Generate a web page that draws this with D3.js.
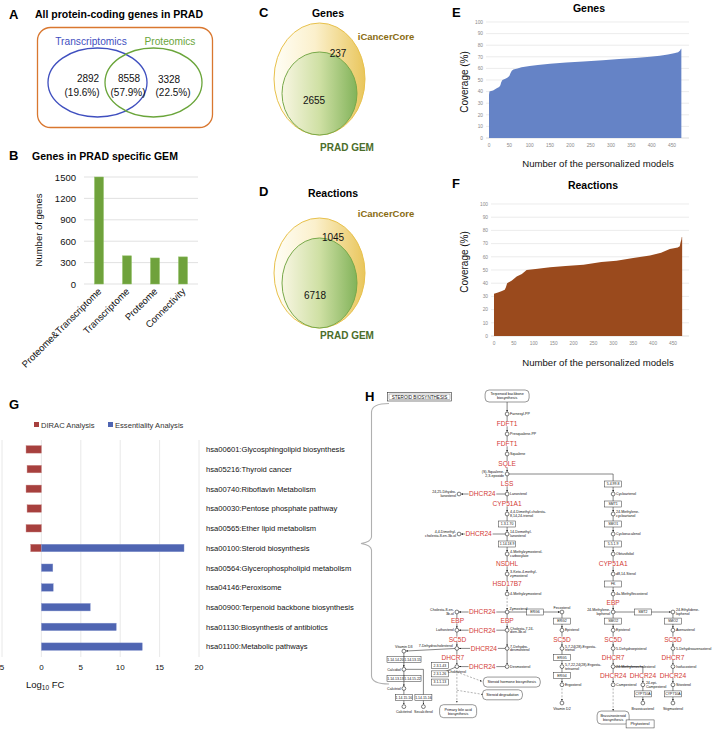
<!DOCTYPE html>
<html><head><meta charset="utf-8">
<script src="https://cdn.jsdelivr.net/npm/d3@7"></script>
<style>
body{margin:0;background:#fff}
svg{display:block}
text{font-family:"Liberation Sans",Arial,sans-serif}
</style></head>
<body><svg id="fig" width="718" height="734"></svg>
<script>
// ---------------- DATA ----------------
const vennSets = ["Transcriptomics", "Proteomics"];
const vennCounts = [2892, 8558, 3328];
const vennPercents = ["19.6%", "57.9%", "22.5%"];

const gemCategories = ["Proteome&Transcriptome", "Transcriptome", "Proteome", "Connectivity"];
const gemGenes = [1500, 395, 365, 380];
const gemTicks = [0, 300, 600, 900, 1200, 1500];

const overlapTitles = ["Genes", "Reactions"];
const overlapOnlyCore = [237, 1045];
const overlapShared = [2655, 6718];

const coverageTicksY = [0, 10, 20, 30, 40, 50, 60, 70, 80, 90, 100];
const coverageTicksX = [0, 50, 100, 150, 200, 250, 300, 350, 400, 450];
const geneCovModel = [0, 1, 5, 10, 15, 20, 25, 28, 30, 33, 40, 45, 50, 53, 56, 60, 70, 80, 100, 120, 150, 190, 232, 280, 320, 360, 396, 420, 440, 455, 465, 470, 472, 473];
const geneCovValue = [37, 40, 40.5, 41, 42, 43, 44, 45.5, 48, 50, 51, 52, 53.5, 56, 58, 59, 60, 61, 62, 63, 64, 65, 66, 67, 68, 69, 70, 71, 72, 73, 74, 75.5, 77, 77];
const rxnCovModel = [0, 10, 20, 27, 30, 33, 45, 57, 70, 82, 110, 141, 180, 225, 270, 308, 350, 392, 420, 442, 462, 467, 469, 471, 472, 473];
const rxnCovValue = [32, 33, 34, 35, 37, 40, 42, 45, 47, 50, 51, 52, 53, 54, 56, 57, 59, 61, 63, 66, 67, 68, 71, 73, 75, 75];

const pathways = ["hsa00601:Glycosphingolipid biosynthesis", "hsa05216:Thyroid cancer", "hsa00740:Riboflavin Metabolism",
  "hsa00030:Pentose phosphate pathway", "hsa00565:Ether lipid metabolism", "hsa00100:Steroid biosynthesis",
  "hsa00564:Glycerophospholipid metabolism", "hsa04146:Peroxisome", "hsa00900:Terpenoid backbone biosynthesis",
  "hsa01130:Biosynthesis of antibiotics", "hsa01100:Metabolic pathways"];
const diracFC = [-1.95, -1.82, -1.95, -1.82, -1.95, -1.36, 0, 0, 0, 0, 0];
const essentialityFC = [0, 0, 0, 0, 0, 18.1, 1.45, 1.5, 6.2, 9.5, 12.8];
const fcTicks = [-5, 0, 5, 10, 15, 20];

// Pathway map (KEGG steroid biosynthesis) in diagram units: column, row
const hCompounds = [
  ["Farnesyl-PP",4.1,0,"r"],["Presqualene-PP",4.1,2,"r"],["Squalene",4.1,4,"r"],["(S)-Squalene-|2,3-epoxide",4.1,6,"l"],
  ["Lanosterol",4.1,8,"r"],["4,4-Dimethyl-cholesta-|8,14,24-trienol",4.1,10,"r"],["14-Demethyl-|lanosterol",4.1,12,"r"],
  ["4-Methylzymosterol-|carboxylate",4.1,14,"r"],["3-Keto-4-methyl-|zymosterol",4.1,16,"r"],["4-Methylzymosterol",4.1,18,"r"],
  ["Zymosterol",4.1,20,"tr"],["Cholesta-7,24-|dien-3b-ol",4.1,22,"r"],["7-Dehydro-|desmosterol",4.1,24,"r"],["Desmosterol",4.1,26,"r"],
  ["24,25-Dihydro-|lanosterol",2.55,8,"l"],["4,4-Dimethyl-|cholesta-8-en-3b-ol",2.55,12,"l"],
  ["Cholesta-8-en-|3b-ol",2.48,20,"l"],["Lathosterol",2.48,22,"l"],["7-Dehydrocholesterol",2.48,24,"a"],["Cholesterol",2.48,26,"b"],
  ["Vitamin D3",0.77,24.3,"t"],["Calcidiol",0.77,26.3,"l"],["Calcitriol",0.77,28.4,"l"],["Calcitetrol",0.77,30.4,"b"],["Secalciferol",1.4,30.4,"b"],
  ["Fecosterol",5.87,20,"t"],["Episterol",5.87,22,"r"],["5,7,24(28)-Ergosta-|trienol",5.87,24,"r"],["5,7,22,24(28)-Ergosta-|tetraenol",5.87,26,"r"],
  ["Ergosterol",5.87,28,"r"],["Vitamin D2",5.87,30,"b"],
  ["Cycloartenol",7.52,8,"r"],["24-Methylene-|cycloartanol",7.52,10,"r"],["Cycloeucalenol",7.52,12,"r"],["Obtusifoliol",7.52,14,"r"],
  ["d8,14-Sterol",7.52,16,"r"],["4a-Methylfecosterol",7.52,18,"r"],["24-Methylene-|lophenol",7.52,20,"l"],["Episterol",7.52,22,"r"],
  ["5-Dehydroepisterol",7.52,24,"r"],["24-Methylenecholesterol",7.52,26,"r"],["Campesterol",7.52,28,"r"],
  ["24-epi-|Campesterol",8.48,28,"r"],["Brassicasterol",8.48,30,"b"],
  ["24-Ethylidene-|lophenol",9.45,20,"r"],["Avenasterol",9.45,22,"r"],["5-Dehydroavenasterol",9.45,24,"r"],["Isofucosterol",9.45,26,"r"],
  ["Sitosterol",9.45,28,"r"],["Stigmasterol",9.45,30,"b"]
];
const hGenes = [
  ["FDFT1",4.1,1],["FDFT1",4.1,3],["SQLE",4.1,5],["LSS",4.1,7],["CYP51A1",4.1,9],["NSDHL",4.1,15],["HSD17B7",4.1,17],["EBP",4.1,21],
  ["DHCR24",3.3,8],["DHCR24",3.18,12],["DHCR24",3.3,20],["DHCR24",3.3,22],["DHCR24",3.35,24],["DHCR24",3.3,26],
  ["EBP",2.5,21],["SC5D",2.5,23],["DHCR7",2.35,25],
  ["SC5D",5.87,23],
  ["CYP51A1",7.52,15],["EBP",7.52,19],["SC5D",7.52,23],["DHCR7",7.52,25],["DHCR24",7.52,27],
  ["DHCR24",8.48,27],["SC5D",9.45,23],["DHCR7",9.45,25],["DHCR24",9.45,27]
];
const hBoxes = [
  ["1.3.1.70",4.1,11],["1.14.18.9",4.1,13],["ERG6",5.0,20],["ERG2",5.87,21],["ERG5",5.87,25],["ERG4",5.87,27],
  ["5.4.99.8",7.52,7],["SMT1",7.52,9],["SMO1",7.52,11],["5.5.1.9",7.52,13],["FK",7.52,17],["SMO2",7.52,21],
  ["SMT2",8.48,20],["SMO2",9.45,21],["CYP710A",8.48,29],["CYP710A",9.45,29],
  ["1.14.14.20",0.5,25.2],["1.14.13.15",1.05,25.2],["1.14.13.13",0.5,27.3],["1.14.15.22",1.05,27.3],
  ["1.14.15.16",0.77,29.4],["1.14.15.16",1.4,29.4],["2.3.1.43",1.93,25.9],["2.3.1.26",1.93,26.8],["3.1.1.13",1.93,27.7]
];
const hPathBoxes = [
  ["Terpenoid backbone|biosynthesis",4.1,-1.8,44,12],["Steroid hormone biosynthesis",4.25,27.7,57,10],
  ["Steroid degradation",3.95,29.1,40,10],["Primary bile acid|biosynthesis",2.52,30.9,37,13],["Brassinosteroid|biosynthesis",7.52,31.6,32,13]
];
const hLinks = [
  [4.1,-1.2,4.1,0,"a"],[4.1,0,4.1,2,"a"],[4.1,2,4.1,4,"a"],[4.1,4,4.1,6,"a"],[4.1,6,4.1,8,"a"],[4.1,8,4.1,10,"a"],[4.1,10,4.1,12,"a"],
  [4.1,12,4.1,14,"a"],[4.1,14,4.1,16,"a"],[4.1,16,4.1,18,"a"],[4.1,18,4.1,20,"d"],[4.1,20,4.1,22,"a"],[4.1,22,4.1,24,"a"],[4.1,24,4.1,26,"a"],
  [4.1,8,2.55,8,"a"],[4.1,12,2.55,12,"a"],[4.1,20,2.48,20,"a"],[4.1,22,2.48,22,"a"],[4.1,24,2.48,24,"a"],[4.1,26,2.48,26,"a"],
  [2.48,20,2.48,22,"a"],[2.48,22,2.48,24,"a"],[2.48,24,2.48,26,"a"],[2.48,24,0.77,24.3,"a"],
  [0.77,24.3,0.77,26.3,"a"],[0.77,26.3,0.77,28.4,"a"],[0.77,28.4,0.77,30.4,"a"],[0.77,26.3,1.4,26.3,"l"],[1.4,26.3,1.4,30.4,"a"],
  [2.48,26,1.93,26.8,"l"],[2.48,26,2.48,30.2,"d"],[2.48,26.6,3.35,27.7,"d"],[2.48,28.6,3.4,29.1,"d"],
  [4.1,20,5.87,20,"a"],[5.87,20,5.87,22,"a"],[5.87,22,5.87,24,"a"],[5.87,24,5.87,26,"a"],[5.87,26,5.87,28,"a"],[5.87,28,5.87,30,"d"],
  [4.1,6,7.52,6,"l"],[7.52,6,7.52,8,"a"],[7.52,8,7.52,10,"a"],[7.52,10,7.52,12,"a"],[7.52,12,7.52,14,"a"],[7.52,14,7.52,16,"a"],
  [7.52,16,7.52,18,"a"],[7.52,18,7.52,20,"a"],[7.52,20,7.52,22,"a"],[7.52,22,7.52,24,"a"],[7.52,24,7.52,26,"a"],[7.52,26,7.52,28,"a"],
  [7.52,28,7.52,31.1,"d"],[7.52,20,9.45,20,"a"],[7.52,26,8.48,26,"l"],[8.48,26,8.48,28,"a"],[8.48,28,8.48,30,"a"],
  [9.45,20,9.45,22,"a"],[9.45,22,9.45,24,"a"],[9.45,24,9.45,26,"a"],[9.45,26,9.45,28,"a"],[9.45,28,9.45,30,"a"]
];

// ---------------- DRAW ----------------
const svg = d3.select("#fig");
const defs = svg.append("defs");
const letter = (t, x, y) => svg.append("text").attr("x", x).attr("y", y).text(t)
  .attr("font-size", 13).attr("font-weight", "bold").attr("fill", "#000");
const title = (t, x, y, anchor) => svg.append("text").attr("x", x).attr("y", y).text(t)
  .attr("font-size", 10.5).attr("font-weight", "bold").attr("fill", "#000").attr("text-anchor", anchor || "start");

// ===== Panel A =====
letter("A", 9, 19);
title("All protein-coding genes in PRAD", 35, 18);
svg.append("rect").attr("x", 37.5).attr("y", 27.5).attr("width", 175).attr("height", 100).attr("rx", 13)
  .attr("fill", "none").attr("stroke", "#d9772f").attr("stroke-width", 1.3);
const vennColors = ["#3f4fbf", "#6aa53a"];
const vennCx = [97.5, 153.5], vennRx = [49.5, 48.5];
vennSets.forEach((s, i) => {
  svg.append("ellipse").attr("cx", vennCx[i]).attr("cy", 82.5).attr("rx", vennRx[i]).attr("ry", 34.5)
    .attr("fill", "none").attr("stroke", vennColors[i]).attr("stroke-width", 1.3);
  svg.append("text").attr("x", [91, 170][i]).attr("y", 45).attr("text-anchor", "middle")
    .attr("font-size", 10.2).attr("fill", vennColors[i]).text(s);
});
vennCounts.forEach((c, i) => {
  const cx = [88, 129, 169][i], px = [82, 128, 173][i];
  svg.append("text").attr("x", cx).attr("y", 82 + (i === 2 ? 1 : 0)).attr("text-anchor", "middle").attr("font-size", 10).attr("fill", "#111").text(c);
  svg.append("text").attr("x", px).attr("y", 95.5).attr("text-anchor", "middle").attr("font-size", 10).attr("fill", "#111").text("(" + vennPercents[i] + ")");
});

// ===== Panel B =====
letter("B", 9, 160);
title("Genes in PRAD specific GEM", 32, 160);
const xB = d3.scaleBand().domain(gemCategories).range([85, 197]).paddingInner(0.68).paddingOuter(0.34);
const yB = d3.scaleLinear().domain([0, 1500]).range([284, 177]);
const gB = svg.append("g");
gB.selectAll("line.grid").data(gemTicks).join("line").attr("x1", 84).attr("x2", 198)
  .attr("y1", d => yB(d)).attr("y2", d => yB(d)).attr("stroke", "#d9d9d9").attr("stroke-width", 0.8);
gB.selectAll("text.tick").data(gemTicks).join("text").attr("x", 76).attr("y", d => yB(d) + 3.5)
  .attr("text-anchor", "end").attr("font-size", 9.5).attr("fill", "#111").text(d => d);
gB.selectAll("rect").data(gemGenes).join("rect").attr("x", (d, i) => xB(gemCategories[i])).attr("width", xB.bandwidth())
  .attr("y", d => yB(d)).attr("height", d => yB(0) - yB(d)).attr("fill", "#6fa23c").attr("stroke", "#8fbf63").attr("stroke-width", 0.5);
gB.selectAll("text.cat").data(gemCategories).join("text")
  .attr("transform", d => `translate(${xB(d) + xB.bandwidth() / 2 + 3},${292}) rotate(-45)`)
  .attr("text-anchor", "end").attr("font-size", 9.5).attr("fill", "#111").text(d => d);
svg.append("text").attr("transform", "translate(42,230) rotate(-90)").attr("text-anchor", "middle")
  .attr("font-size", 9.5).attr("fill", "#111").text("Number of genes");

// ===== Panels C & D =====
function grad(id, stops) {
  const g = defs.append("linearGradient").attr("id", id).attr("x1", "0%").attr("x2", "100%").attr("y1", "0%").attr("y2", "0%");
  stops.forEach(s => g.append("stop").attr("offset", s[0]).attr("stop-color", s[1]));
}
grad("gOuter", [["0%", "#fffef6"], ["45%", "#fbf0cc"], ["100%", "#e9c65c"]]);
grad("gInner", [["0%", "#f8f6e2"], ["50%", "#cfe0a4"], ["100%", "#82b35a"]]);
overlapTitles.forEach((t, i) => {
  const oy = i === 0 ? 0 : 179;
  letter(i === 0 ? "C" : "D", 259, 17 + oy);
  title(t, [328, 333][i], 17 + oy - (i === 0 ? 0 : -1), "middle");
  const outerCy = [79, 273][i], outerRy = [56, 55][i];
  svg.append("ellipse").attr("cx", 319.5).attr("cy", outerCy).attr("rx", 45.5).attr("ry", outerRy)
    .attr("fill", "url(#gOuter)").attr("stroke", "#e8c14c").attr("stroke-width", 1);
  const innerRy = [41.5, 45][i];
  svg.append("ellipse").attr("cx", 319.5).attr("cy", outerCy + outerRy - innerRy).attr("rx", 37.5).attr("ry", innerRy)
    .attr("fill", "url(#gInner)").attr("stroke", "#78a94a").attr("stroke-width", 1);
  svg.append("text").attr("x", 386).attr("y", [40, 217][i]).attr("text-anchor", "middle").attr("font-size", 9.5)
    .attr("font-weight", "bold").attr("fill", "#8a6c12").text("iCancerCore");
  svg.append("text").attr("x", [338, 333][i]).attr("y", [57, 241][i]).attr("text-anchor", "middle").attr("font-size", 10).attr("fill", "#111").text(overlapOnlyCore[i]);
  svg.append("text").attr("x", [314, 315][i]).attr("y", [104, 299][i]).attr("text-anchor", "middle").attr("font-size", 10).attr("fill", "#111").text(overlapShared[i]);
  svg.append("text").attr("x", 347).attr("y", [151, 339][i]).attr("text-anchor", "middle").attr("font-size", 10)
    .attr("font-weight", "bold").attr("fill", "#4b6d2a").text("PRAD GEM");
});

// ===== Panels E & F =====
function coverage(opt) {
  const x = d3.scaleLinear().domain([0, 450]).range(opt.xr);
  const y = d3.scaleLinear().domain([0, 100]).range(opt.yr);
  const g = svg.append("g");
  g.selectAll("line").data(coverageTicksY).join("line").attr("x1", opt.xr[0] - 3).attr("x2", 689)
    .attr("y1", d => y(d)).attr("y2", d => y(d)).attr("stroke", d => d === 0 ? "#cfcfcf" : "#e4e4e4").attr("stroke-width", 0.7);
  g.selectAll("text.ty").data(coverageTicksY).join("text").attr("x", opt.xr[0] - 6).attr("y", d => y(d) + 1.7)
    .attr("text-anchor", "end").attr("font-size", 4.8).attr("fill", "#8a8a8a").text(d => d);
  g.selectAll("text.tx").data(coverageTicksX).join("text").attr("x", d => x(d)).attr("y", opt.yr[0] + 9)
    .attr("text-anchor", "middle").attr("font-size", 4.8).attr("fill", "#8a8a8a").text(d => d);
  const area = d3.area().x(d => x(d[0])).y0(y(0)).y1(d => y(d[1]));
  g.append("path").datum(opt.mx.map((m, i) => [m, opt.vals[i]])).attr("d", area).attr("fill", opt.color);
  letter(opt.letter, 452, opt.ly);
  title(opt.title, opt.tx, opt.ty, "middle");
  svg.append("text").attr("transform", `translate(468,${opt.labY}) rotate(-90)`).attr("text-anchor", "middle")
    .attr("font-size", 10).attr("fill", "#111").text("Coverage (%)");
  svg.append("text").attr("x", 598).attr("y", opt.xlabY).attr("text-anchor", "middle").attr("font-size", 9.6)
    .attr("fill", "#111").text("Number of the personalized models");
}
coverage({xr: [489, 672], yr: [138, 22], mx: geneCovModel, vals: geneCovValue, color: "#6583c6",
  letter: "E", ly: 17, title: "Genes", tx: 589, ty: 12, labY: 82, xlabY: 167});
coverage({xr: [494, 673], yr: [336, 204], mx: rxnCovModel, vals: rxnCovValue, color: "#9a4a1d",
  letter: "F", ly: 188, title: "Reactions", tx: 593, ty: 189, labY: 262, xlabY: 366});

// ===== Panel G =====
letter("G", 9, 409);
const xG = d3.scaleLinear().domain([-5, 20]).range([2, 199]);
const yG = d3.scaleBand().domain(pathways).range([439.5, 656.5]).paddingInner(0.62).paddingOuter(0.31);
const gG = svg.append("g");
gG.selectAll("line").data(fcTicks).join("line").attr("x1", d => xG(d)).attr("x2", d => xG(d))
  .attr("y1", 440).attr("y2", 657).attr("stroke", "#e2e2e2").attr("stroke-width", 0.8);
gG.selectAll("text.tick").data(fcTicks).join("text").attr("x", d => xG(d)).attr("y", 670)
  .attr("text-anchor", "middle").attr("font-size", 8).attr("fill", "#111").text(d => Math.abs(d));
gG.selectAll("rect.dirac").data(diracFC).join("rect").attr("class", "dirac")
  .attr("x", d => xG(Math.min(0, d))).attr("width", d => Math.abs(xG(d) - xG(0)))
  .attr("y", (d, i) => yG(pathways[i])).attr("height", yG.bandwidth()).attr("fill", "#a7403e")
  .attr("stroke", "#c98886").attr("stroke-width", 0.4);
gG.selectAll("rect.ess").data(essentialityFC).join("rect").attr("class", "ess")
  .attr("x", xG(0)).attr("width", d => xG(d) - xG(0))
  .attr("y", (d, i) => yG(pathways[i])).attr("height", yG.bandwidth()).attr("fill", "#4f65b2")
  .attr("stroke", "#8a98cf").attr("stroke-width", 0.4);
gG.selectAll("text.cat").data(pathways).join("text").attr("x", 206).attr("y", d => yG(d) + yG.bandwidth() / 2 + 2.8)
  .attr("font-size", 7.6).attr("fill", "#111").text(d => d);
const legG = [["DIRAC Analysis", "#a7403e", 34], ["Essentiality Analysis", "#4f65b2", 108]];
legG.forEach(l => {
  svg.append("rect").attr("x", l[2]).attr("y", 422).attr("width", 5).attr("height", 5).attr("fill", l[1]);
  svg.append("text").attr("x", l[2] + 7).attr("y", 427.5).attr("font-size", 7.6).attr("fill", "#333").text(l[0]);
});
const logLab = svg.append("text").attr("x", 26).attr("y", 688).attr("font-size", 9.5).attr("fill", "#111");
logLab.append("tspan").text("Log");
logLab.append("tspan").attr("font-size", 6.5).attr("dy", 2).text("10");
logLab.append("tspan").attr("dy", -2).text(" FC");

// ===== Panel H =====
letter("H", 365, 401);
const hx = d3.scaleLinear().domain([0, 10]).range([380, 690]);
const hy = d3.scaleLinear().domain([0, 18, 20, 30]).range([414, 594, 612, 703]);
// bracket
const br = d3.path();
br.moveTo(389, 403.5); br.quadraticCurveTo(372, 403.5, 371.5, 412);
br.lineTo(371.5, 537); br.quadraticCurveTo(371, 542, 361, 543.5); br.quadraticCurveTo(371, 545, 371.5, 550);
br.lineTo(371.5, 676); br.quadraticCurveTo(372, 684, 389, 684);
svg.append("path").attr("d", br.toString()).attr("fill", "none").attr("stroke", "#b0b0b0").attr("stroke-width", 1.1);
svg.append("rect").attr("x", 387.5).attr("y", 392.5).attr("width", 64).attr("height", 8.5).attr("fill", "#fff")
  .attr("stroke", "#333").attr("stroke-width", 0.6);
svg.append("rect").attr("x", 389).attr("y", 394).attr("width", 61).attr("height", 5.5).attr("fill", "none")
  .attr("stroke", "#333").attr("stroke-width", 0.3);
svg.append("text").attr("x", 419.5).attr("y", 398.8).attr("text-anchor", "middle")
  .attr("font-size", 4.6).attr("font-family", "Liberation Serif").attr("fill", "#111").text("STEROID BIOSYNTHESIS");

defs.append("marker").attr("id", "arr").attr("viewBox", "0 0 6 6").attr("refX", 6).attr("refY", 3)
  .attr("markerWidth", 3.2).attr("markerHeight", 3.2).attr("orient", "auto")
  .append("path").attr("d", "M0,0L6,3L0,6Z").attr("fill", "#111");
const gH = svg.append("g");
gH.selectAll("line.link").data(hLinks).join("line")
  .each(function (d) {
    const x1 = hx(d[0]), y1 = hy(d[1]), x2 = hx(d[2]), y2 = hy(d[3]);
    const len = Math.hypot(x2 - x1, y2 - y1) || 1;
    const sh = d[4] === "l" ? 0 : 2.2;
    d3.select(this).attr("x1", x1).attr("y1", y1)
      .attr("x2", x2 - (x2 - x1) / len * sh).attr("y2", y2 - (y2 - y1) / len * sh);
  })
  .attr("stroke", d => d[4] === "d" ? "#777" : "#222").attr("stroke-width", 0.55)
  .attr("stroke-dasharray", d => d[4] === "d" ? "2,1.5" : null)
  .attr("marker-end", d => d[4] === "l" ? null : "url(#arr)");
// pathway boxes
hPathBoxes.forEach(b => {
  const cx = hx(b[1]), cy = hy(b[2]);
  gH.append("rect").attr("x", cx - b[3] / 2).attr("y", cy - b[4] / 2).attr("width", b[3]).attr("height", b[4])
    .attr("rx", 4).attr("fill", "#fff").attr("stroke", "#333").attr("stroke-width", 0.5);
  const lines = b[0].split("|");
  lines.forEach((ln, k) => gH.append("text").attr("x", cx).attr("y", cy + 1.4 + (k - (lines.length - 1) / 2) * 4)
    .attr("text-anchor", "middle").attr("font-size", 3.7).attr("font-family", "Liberation Serif").attr("fill", "#111").text(ln));
});
gH.append("rect").attr("x", hx(8.39) - 14).attr("y", hy(32.3) - 4).attr("width", 28).attr("height", 8)
  .attr("fill", "#fff").attr("stroke", "#333").attr("stroke-width", 0.5);
gH.append("text").attr("x", hx(8.39)).attr("y", hy(32.3) + 1.3).attr("text-anchor", "middle")
  .attr("font-size", 3.8).attr("font-family", "Liberation Serif").attr("fill", "#111").text("Phytosterol");
// enzyme boxes
hBoxes.forEach(b => {
  const cx = hx(b[1]), cy = hy(b[2]);
  gH.append("rect").attr("x", cx - 8.5).attr("y", cy - 3).attr("width", 17).attr("height", 6)
    .attr("fill", "#fff").attr("stroke", "#333").attr("stroke-width", 0.5);
  gH.append("text").attr("x", cx).attr("y", cy + 1.3).attr("text-anchor", "middle")
    .attr("font-size", 3.5).attr("font-family", "Liberation Serif").attr("fill", "#111").text(b[0]);
});
// genes
hGenes.forEach(g => {
  const cx = hx(g[1]), cy = hy(g[2]);
  const t = gH.append("text").attr("x", cx).attr("y", cy + 2.3).attr("text-anchor", "middle")
    .attr("font-size", 6.6).attr("fill", "#d33a35").text(g[0]);
  const bb = t.node().getBBox();
  gH.insert("rect", () => t.node()).attr("x", bb.x - 0.5).attr("y", bb.y + 1).attr("width", bb.width + 1).attr("height", bb.height - 2).attr("fill", "#fff");
});
// compounds
hCompounds.forEach(c => {
  const cx = hx(c[1]), cy = hy(c[2]);
  gH.append("circle").attr("cx", cx).attr("cy", cy).attr("r", 1.9).attr("fill", "#fff").attr("stroke", "#111").attr("stroke-width", 0.55);
  const lines = c[0].split("|");
  lines.forEach((ln, k) => {
    const off = (k - (lines.length - 1) / 2) * 3.6;
    let x = cx, y = cy + 1.2 + off, anchor = "start";
    if (c[3] === "r") x = cx + 3;
    else if (c[3] === "l") { x = cx - 3; anchor = "end"; }
    else if (c[3] === "t") { y = cy - 3.2 + off; anchor = "middle"; }
    else if (c[3] === "tr") { x = cx + 2.5; y = cy - 2.4; }
    else if (c[3] === "b") { y = cy + 6.5 + off; anchor = "middle"; }
    else if (c[3] === "a") { x = cx - 4; y = cy - 1.6; anchor = "end"; }
    gH.append("text").attr("x", x).attr("y", y).attr("text-anchor", anchor)
      .attr("font-size", 3.6).attr("font-family", "Liberation Serif").attr("fill", "#111").text(ln);
  });
});
</script></body></html>
